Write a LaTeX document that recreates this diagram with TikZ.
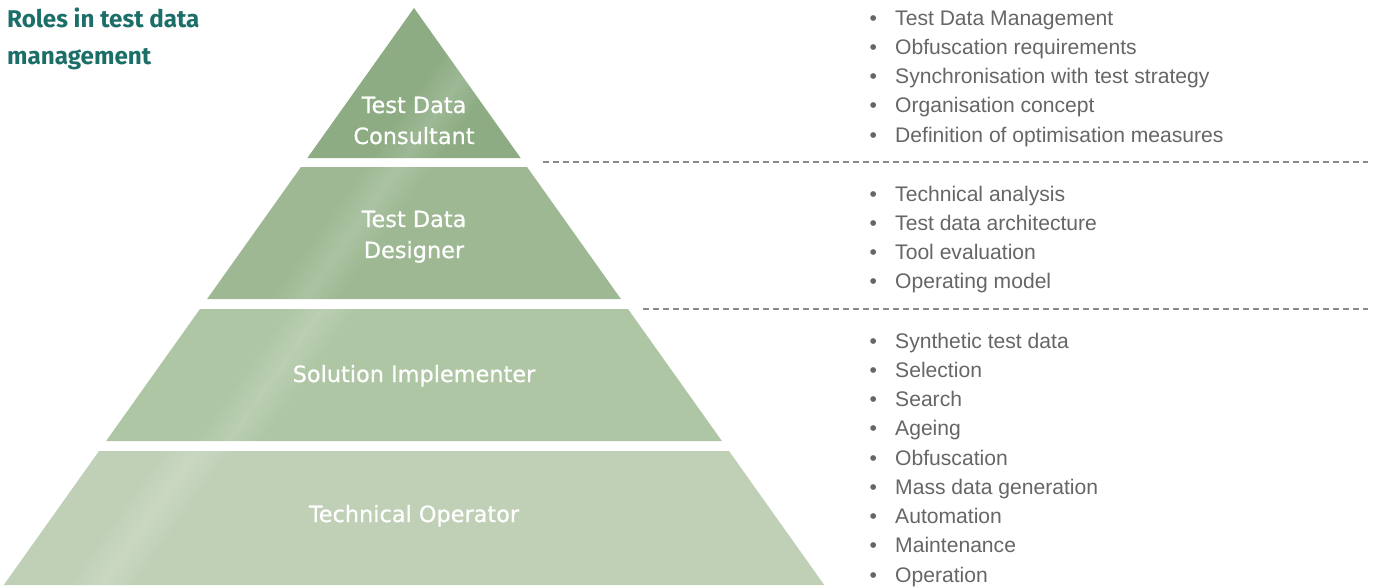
\documentclass[tikz,border=0pt]{standalone}
\usepackage{fontspec}
\setmainfont{Liberation Sans}
\newfontfamily\labelfont[FakeBold=0.6]{DejaVu Sans}
\newfontfamily\titlefont{Fira Sans}
\definecolor{cone}{HTML}{8DAC83}
\definecolor{ctwo}{HTML}{9DB892}
\definecolor{cthree}{HTML}{AEC6A4}
\definecolor{cfour}{HTML}{C0D0B7}
\definecolor{titleteal}{HTML}{1B6F68}
\definecolor{bulgray}{HTML}{666666}
\definecolor{dashgray}{HTML}{8A8A8A}
\newcommand\pyrlayer[4]{%
  \pgfmathsetmacro\xlt{414-0.711*(#1-8)}%
  \pgfmathsetmacro\xrt{414+0.711*(#1-8)}%
  \pgfmathsetmacro\xlb{414-0.711*(#2-8)}%
  \pgfmathsetmacro\xrb{414+0.711*(#2-8)}%
  \fill[#3] (\xlt,#1) -- (\xrt,#1) -- (\xrb,#2) -- (\xlb,#2) -- cycle;
  \begin{scope}
    \clip (\xlt,#1) -- (\xrt,#1) -- (\xrb,#2) -- (\xlb,#2) -- cycle;
    \foreach \o/\op in {-30/0.03,-25/0.05,-20/0.07,-15/0.09,-10/0.11,-5/0.13,0/0.15,5/0.13,10/0.11,15/0.09,20/0.07,25/0.05,30/0.03}{
      \pgfmathsetmacro\ta{\xlt+#4+\o}%
      \pgfmathsetmacro\tb{\xlb+#4+\o}%
      \fill[white,opacity=\op] (\ta,#1) -- (\ta+5,#1) -- (\tb+5,#2) -- (\tb,#2) -- cycle;
    }
  \end{scope}
}
\tikzset{
  bul/.style={anchor=base west, inner sep=0pt, text=bulgray, font=\fontsize{21.1}{24}\selectfont},
  pyrlabel/.style={text=white, inner sep=0pt, align=center, font=\labelfont\fontsize{22.4}{31}\selectfont},
  dashline/.style={draw=dashgray, line width=1.2pt, dash pattern=on 6pt off 4pt},
  titletext/.style={anchor=north west, inner sep=0pt, text=titleteal, align=left, font=\titlefont\bfseries\fontsize{24.2}{37}\selectfont}
}
\newcommand\bitem[1]{\makebox[25.5pt][l]{\textbullet}#1}
\begin{document}
\begin{tikzpicture}[x=1pt,y=-1pt]
\useasboundingbox (0,0) rectangle (1381,587);
\fill[white] (0,0) rectangle (1381,587);

% pyramid layers
\pyrlayer{8}{158}{cone}{95}
\pyrlayer{167}{299}{ctwo}{95}
\pyrlayer{309}{441}{cthree}{120}
\pyrlayer{451}{585}{cfour}{95}

% title
\node[titletext] (title) at (7,7.5) {Roles in test data\\management};

% labels
\node[pyrlabel] (consultant) at (414,120.5) {Test Data\\Consultant};
\node[pyrlabel] (designer) at (414,236.7) {Test Data\\Designer};
\node[pyrlabel, anchor=base] (implementer) at (414,382) {Solution Implementer};
\node[pyrlabel, anchor=base] (operator) at (414,522) {Technical Operator};

% dashed separators
\coordinate (da) at (543,162);
\coordinate (db) at (1368,162);
\coordinate (dc) at (643,309);
\coordinate (dd) at (1368,309);
\draw[dashline] (da) -- (db);
\draw[dashline] (dc) -- (dd);

% bullets group 1
\node[bul] (a1) at (869.5,25) {\bitem{Test Data Management}};
\node[bul] (a2) at (869.5,54.3) {\bitem{Obfuscation requirements}};
\node[bul] (a3) at (869.5,83.6) {\bitem{Synchronisation with test strategy}};
\node[bul] (a4) at (869.5,112.9) {\bitem{Organisation concept}};
\node[bul] (a5) at (869.5,142.2) {\bitem{Definition of optimisation measures}};
% group 2
\node[bul] (b1) at (869.5,201) {\bitem{Technical analysis}};
\node[bul] (b2) at (869.5,230.3) {\bitem{Test data architecture}};
\node[bul] (b3) at (869.5,259.6) {\bitem{Tool evaluation}};
\node[bul] (b4) at (869.5,288.9) {\bitem{Operating model}};
% group 3
\node[bul] (c1) at (869.5,348) {\bitem{Synthetic test data}};
\node[bul] (c2) at (869.5,377.25) {\bitem{Selection}};
\node[bul] (c3) at (869.5,406.5) {\bitem{Search}};
\node[bul] (c4) at (869.5,435.75) {\bitem{Ageing}};
\node[bul] (c5) at (869.5,465) {\bitem{Obfuscation}};
\node[bul] (c6) at (869.5,494.25) {\bitem{Mass data generation}};
\node[bul] (c7) at (869.5,523.5) {\bitem{Automation}};
\node[bul] (c8) at (869.5,552.75) {\bitem{Maintenance}};
\node[bul] (c9) at (869.5,582) {\bitem{Operation}};
\end{tikzpicture}
\end{document}
